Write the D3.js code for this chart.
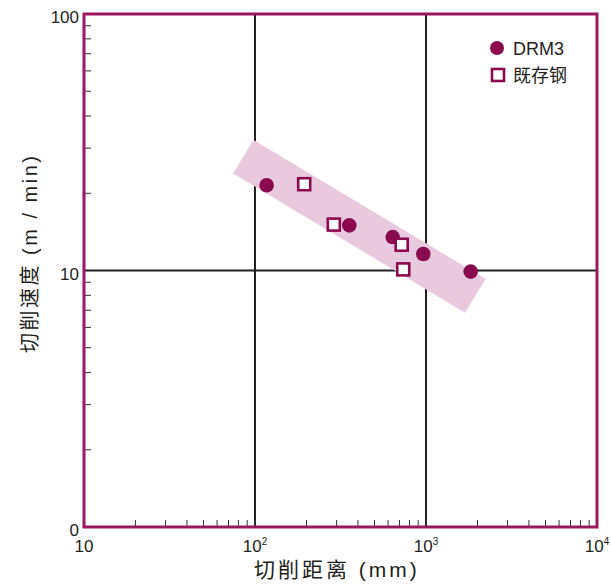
<!DOCTYPE html>
<html>
<head>
<meta charset="utf-8">
<script src="https://cdn.jsdelivr.net/npm/d3@7"></script>
<style>
  body { margin: 0; background: #fff; }
  text { font-family: "Liberation Sans", Arial, "Noto Sans CJK SC", sans-serif; fill: #231f20; }
  .cjk { font-family: "Liberation Sans", "Noto Sans CJK SC", sans-serif; }
</style>
</head>
<body>
<svg id="chart"></svg>
<script>
'use strict';

// data
var drm3Dist = [117, 356, 639, 964, 1825];
var drm3Speed = [21.5, 15.0, 13.5, 11.6, 9.9];
var steelDist = [194, 289, 721, 736];
var steelSpeed = [21.7, 15.1, 12.6, 10.1];

// shaded band corners (distance, speed)
var bandDist = [97.8, 2234, 1690, 74.6];
var bandSpeed = [32.3, 9.27, 6.85, 23.9];

var xTickValues = [10, 100, 1000, 10000];
var xTickExp = ['', '2', '3', '4'];
var yTickValues = [1, 10, 100];
var yTickLabels = ['0', '10', '100'];
var legendNames = ['DRM3', '既存钢'];

var width = 611, height = 585;
var plotLeft = 84, plotRight = 597, plotTop = 14, plotBottom = 527;
var purple = '#9b1760';
var dark = '#8a0a4e';

var svg = d3.select('#chart')
  .attr('width', width)
  .attr('height', height);

var x = d3.scaleLog().domain([10, 10000]).range([plotLeft, plotRight]);
var y = d3.scaleLog().domain([1, 100]).range([plotBottom, plotTop]);

// grid lines at the decades
svg.append('line')
  .attr('x1', x(100)).attr('x2', x(100))
  .attr('y1', plotTop).attr('y2', plotBottom)
  .attr('stroke', '#231f20').attr('stroke-width', 2);
svg.append('line')
  .attr('x1', x(1000)).attr('x2', x(1000))
  .attr('y1', plotTop).attr('y2', plotBottom)
  .attr('stroke', '#231f20').attr('stroke-width', 2);
svg.append('line')
  .attr('x1', plotLeft).attr('x2', plotRight)
  .attr('y1', y(10)).attr('y2', y(10))
  .attr('stroke', '#231f20').attr('stroke-width', 2);

// minor ticks, inside the frame
svg.append('g').selectAll('line')
  .data(x.ticks().filter(function (d) { return d > 10 && d < 10000; }))
  .join('line')
  .attr('x1', function (d) { return x(d); })
  .attr('x2', function (d) { return x(d); })
  .attr('y1', plotBottom).attr('y2', plotBottom - 7)
  .attr('stroke', '#333').attr('stroke-width', 1);

svg.append('g').selectAll('line')
  .data(y.ticks().filter(function (d) { return d > 1 && d < 100 && d !== 10; }))
  .join('line')
  .attr('x1', plotLeft).attr('x2', plotLeft + 7)
  .attr('y1', function (d) { return y(d); })
  .attr('y2', function (d) { return y(d); })
  .attr('stroke', '#333').attr('stroke-width', 1);

// band
var band = bandDist.map(function (d, i) { return [x(d), y(bandSpeed[i])]; });
svg.append('polygon')
  .attr('points', band.map(function (p) { return p.join(','); }).join(' '))
  .attr('fill', '#e8c9dd');

// frame
svg.append('rect')
  .attr('x', plotLeft).attr('y', plotTop)
  .attr('width', plotRight - plotLeft).attr('height', plotBottom - plotTop)
  .attr('fill', 'none')
  .attr('stroke', purple).attr('stroke-width', 3);

// points
svg.append('g').selectAll('circle')
  .data(drm3Dist)
  .join('circle')
  .attr('cx', function (d) { return x(d); })
  .attr('cy', function (d, i) { return y(drm3Speed[i]); })
  .attr('r', 7.3)
  .attr('fill', dark);

svg.append('g').selectAll('rect')
  .data(steelDist)
  .join('rect')
  .attr('x', function (d) { return x(d) - 6; })
  .attr('y', function (d, i) { return y(steelSpeed[i]) - 6; })
  .attr('width', 12).attr('height', 12)
  .attr('fill', '#fff')
  .attr('stroke', dark).attr('stroke-width', 2.6);

// axis labels
svg.append('g').selectAll('text')
  .data(yTickValues)
  .join('text')
  .attr('x', plotLeft - 5)
  .attr('y', function (d) { return y(d) + 9; })
  .attr('text-anchor', 'end')
  .attr('font-size', 17)
  .text(function (d, i) { return yTickLabels[i]; });

var xl = svg.append('g').selectAll('text')
  .data(xTickValues)
  .join('text')
  .attr('x', function (d) { return x(d); })
  .attr('y', 552)
  .attr('text-anchor', 'middle')
  .attr('font-size', 17);
xl.append('tspan').text('10');
xl.append('tspan')
  .attr('dy', -7)
  .attr('font-size', 10)
  .text(function (d, i) { return xTickExp[i]; });

// titles
svg.append('text')
  .attr('class', 'cjk')
  .attr('x', 254).attr('y', 577)
  .attr('font-size', 21)
  .attr('letter-spacing', 3)
  .text('切削距离 (mm)');

svg.append('text')
  .attr('class', 'cjk')
  .attr('transform', 'translate(37,353) rotate(-90)')
  .attr('font-size', 20)
  .attr('letter-spacing', 2.5)
  .text('切削速度 (m / min)');

// legend
var leg = svg.append('g');
leg.append('circle')
  .attr('cx', 497).attr('cy', 48).attr('r', 7)
  .attr('fill', dark);
leg.append('rect')
  .attr('x', 492).attr('y', 69).attr('width', 12).attr('height', 12)
  .attr('fill', '#fff')
  .attr('stroke', dark).attr('stroke-width', 2.6);
leg.selectAll('text')
  .data(legendNames)
  .join('text')
  .attr('class', 'cjk')
  .attr('x', 513)
  .attr('y', function (d, i) { return 55 + i * 27; })
  .attr('font-size', 18)
  .text(function (d) { return d; });
</script>
</body>
</html>
